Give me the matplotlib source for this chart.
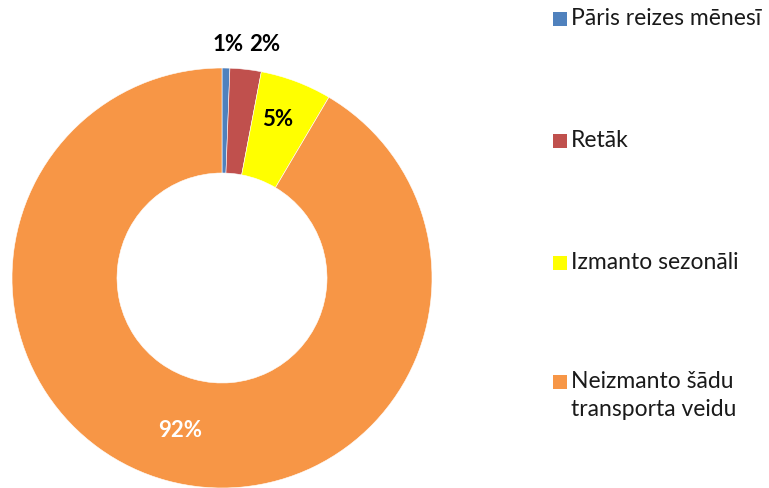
import matplotlib.pyplot as plt
from matplotlib.patches import Rectangle
import numpy as np

categories = ['Pāris reizes mēnesī', 'Retāk', 'Izmanto sezonāli',
              'Neizmanto šādu\ntransporta veidu']
values = [0.6, 2.4, 5.5, 91.5]
value_labels = ['1%', '2%', '5%', '92%']
colors = ['#4F81BD', '#C0504D', '#FFFF00', '#F79646']

plt.rcParams['font.family'] = ['Lato', 'DejaVu Sans']

W, H = 769, 489
fig = plt.figure(figsize=(W / 100, H / 100), dpi=100)

# donut: centre (222, 279) px, radius 210 px
ax = fig.add_axes([12 / W, 0, 420 / W, 420 / H])
wedges, _ = ax.pie(values, colors=colors, startangle=90, counterclock=False,
                   radius=1.0, wedgeprops=dict(width=0.5, edgecolor='white', linewidth=0.4))
ax.set_xlim(-1, 1)
ax.set_ylim(-1, 1)
ax.set_aspect('equal')
ax.axis('off')

# data labels: the two small ones sit above the ring, the rest in the ring
cum = np.cumsum([0] + values[:-1])
total = sum(values)
outside_pos = {0: (0.03, 1.115), 1: (0.205, 1.115)}
for i, (v, lab) in enumerate(zip(values, value_labels)):
    if i in outside_pos:
        x, y = outside_pos[i]
        c = 'black'
    else:
        ang = np.deg2rad(360 * (cum[i] + v / 2) / total)
        r = 0.75
        x, y = r * np.sin(ang), r * np.cos(ang)
        if i == 2:
            y += 0.06
        c = 'white' if i == 3 else 'black'
    ax.text(x, y, lab, ha='center', va='center', fontsize=16,
            fontweight='bold', color=c)

# legend drawn by hand to match the wide row spacing
row_y = [20, 142, 264, 383]
for cat, col, yc in zip(categories, colors, row_y):
    fig.patches.append(Rectangle((553 / W, 1 - (yc + 7) / H), 14 / W, 14 / H,
                                 transform=fig.transFigure, facecolor=col,
                                 edgecolor='none'))
    fig.text(571 / W, 1 - (yc - 12) / H, cat, ha='left', va='top',
             fontsize=16.5, color='#1a1a1a', linespacing=1.4)

fig.savefig('out.png', dpi=100, facecolor='white')
